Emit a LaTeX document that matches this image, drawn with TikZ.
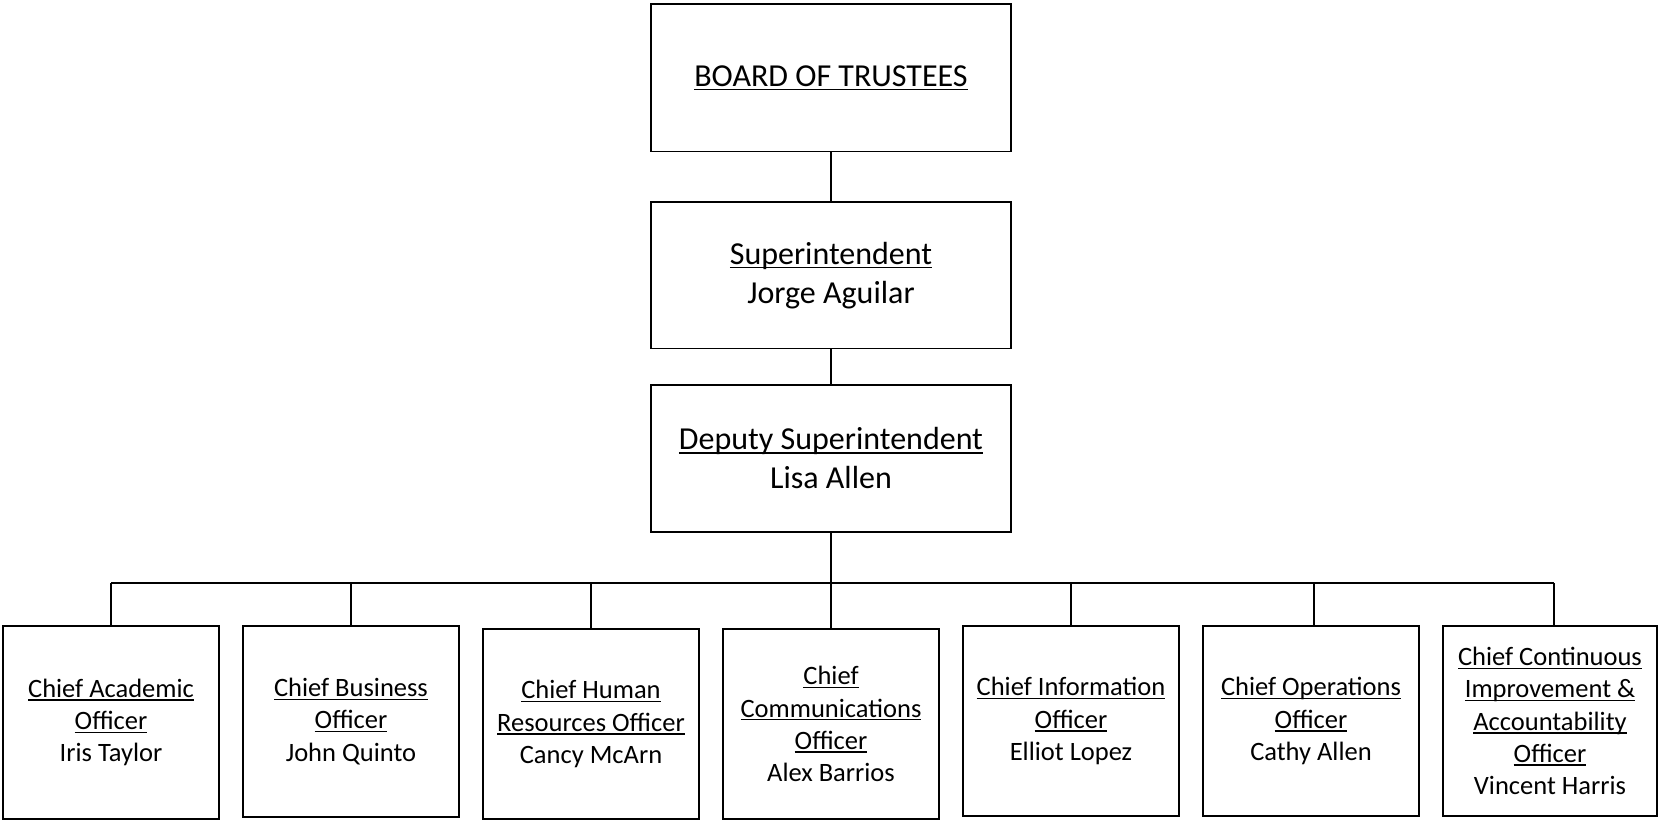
\documentclass[tikz,border=0pt]{standalone}
\usepackage{fontspec}
\setmainfont{Carlito}
\newcommand\ulx[1]{\setbox0\hbox{#1}\rlap{\rule[-0.13em]{\wd0}{0.055em}}\box0}
\begin{document}
\begin{tikzpicture}[x=1pt,y=-1pt,
  box/.style={draw, line width=1.8pt, align=center, inner sep=0pt},
  big/.style={box, minimum width=360pt, minimum height=147pt, font=\fontsize{32}{39}\selectfont},
  small/.style={box, minimum width=216pt, minimum height=190pt, font=\fontsize{26.5}{32.2}\selectfont},
  link/.style={line width=1.8pt}]
\useasboundingbox[fill=white] (0,0) rectangle (1658,821);
\node[big, minimum height=147.5pt] (board) at (831,77.8) {\ulx{BOARD OF TRUSTEES}};
\node[big, minimum height=146.5pt] (sup) at (831,275.3) {\ulx{Superintendent}\\Jorge Aguilar};
\node[big] (dep) at (831,458.5) {\ulx{Deputy Superintendent}\\Lisa Allen};
\node[small, minimum height=193pt] (c1) at (111,722.5) {\ulx{Chief Academic}\\\ulx{Officer}\\Iris Taylor};
\node[small, minimum height=191pt] (c2) at (351,721.5) {\ulx{Chief Business}\\\ulx{Officer}\\John Quinto};
\node[small] (c3) at (591,724) {\ulx{Chief Human}\\\ulx{Resources Officer}\\Cancy McArn};
\node[small] (c4) at (831,724) {\ulx{Chief}\\\ulx{Communications}\\\ulx{Officer}\\Alex Barrios};
\node[small] (c5) at (1071,721) {\ulx{Chief Information}\\\ulx{Officer}\\Elliot Lopez};
\node[small] (c6) at (1311,721) {\ulx{Chief Operations}\\\ulx{Officer}\\Cathy Allen};
\node[small, minimum width=214pt] (c7) at (1550,721) {\ulx{Chief Continuous}\\\ulx{Improvement \&}\\\ulx{Accountability}\\\ulx{Officer}\\Vincent Harris};
\coordinate (busL) at (111,583);
\coordinate (busR) at (1554,583);
\draw[link] (board) -- (sup);
\draw[link] (sup) -- (dep);
\draw[link] (dep.south) -- (dep.south |- busL);
\draw[link] (busL) -- (busR);
\foreach \c in {c1,c2,c3,c4,c5} {
  \draw[link] (\c.north) -- (\c.north |- busL);
}
\draw[link] ([xshift=3pt]c6.north) -- ([xshift=3pt]c6.north |- busL);
\draw[link] ([xshift=4pt]c7.north) -- (busR);
\end{tikzpicture}
\end{document}
